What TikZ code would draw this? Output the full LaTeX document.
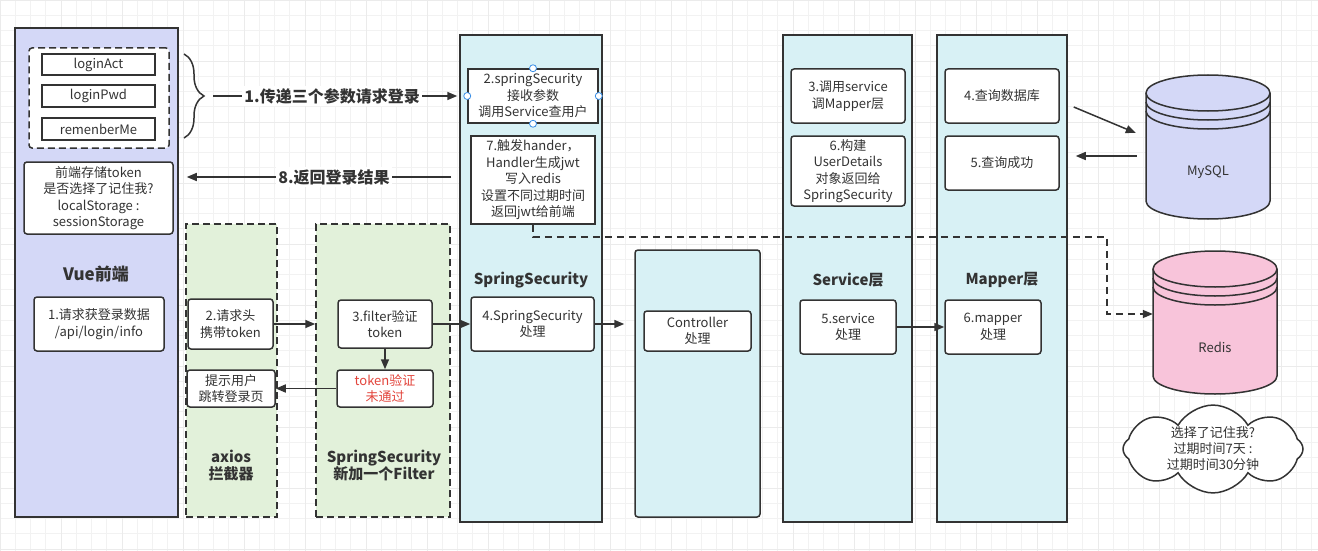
\documentclass[tikz,border=0pt]{standalone}
\usepackage{fontspec}
\setmainfont{Noto Sans CJK SC}
\usetikzlibrary{arrows.meta,shapes.symbols,decorations.pathreplacing,calc}
\definecolor{ink}{HTML}{333333}
\definecolor{vuefill}{HTML}{D4D8F7}
\definecolor{greenfill}{HTML}{E2F1DA}
\definecolor{cyanfill}{HTML}{D8F1F5}
\definecolor{pinkfill}{HTML}{F8C4DA}
\definecolor{redtxt}{HTML}{E3453C}
\definecolor{handlec}{HTML}{3A8EE6}
\begin{document}
\begin{tikzpicture}[x=1pt,y=-1pt,
 every node/.style={text=ink, font=\fontsize{13}{16.5}\selectfont, align=center, inner sep=0pt},
 box/.style={draw=ink, line width=1.5pt, fill=white, rounded corners=3pt},
 sbox/.style={draw=ink, line width=1.5pt, fill=white},
 col/.style={draw=ink, line width=1.5pt, fill=cyanfill},
 dcol/.style={draw=ink, line width=1.5pt, fill=greenfill, dash pattern=on 7pt off 4pt},
 ttl/.style={font=\bfseries\fontsize{15}{17}\selectfont},
 arr/.style={draw=ink, line width=1.5pt, -{Triangle[length=10pt,width=8pt]}},
 lbl/.style={font=\bfseries\fontsize{16}{19}\selectfont, fill=white, inner sep=2pt},
 dbline/.style={draw=ink, line width=1.5pt},
]
\useasboundingbox (0,0) rectangle (1318,551);
\fill[white] (0,0) rectangle (1318,551);
\draw[line width=0.8pt, color=black!5, step=15.25pt] (0,0) grid (1318,551);
\draw[line width=0.8pt, color=black!8, step=61pt] (0,0) grid (1318,551);

% Vue front end
\node[sbox, fill=vuefill, minimum width=163, minimum height=489] (vue) at (96.5,272.5) {};
\node[box, dash pattern=on 7pt off 4pt, minimum width=140, minimum height=100] (grp) at (99,98) {};
\node[sbox, minimum width=113, minimum height=21] (act) at (98.5,64.5) {loginAct};
\node[sbox, minimum width=113, minimum height=22] (pwd) at (98.5,96) {loginPwd};
\node[sbox, minimum width=113, minimum height=22] (rem) at (98.5,129) {remenberMe};
\node[box, minimum width=149, minimum height=72] (store) at (98.5,198) {前端存储token\\是否选择了记住我?\\localStorage :\\sessionStorage};
\node[font=\bfseries\fontsize{17}{20}\selectfont] (vuet) at (96,274) {Vue前端};
\node[box, minimum width=130, minimum height=54] (req) at (99,324) {1.请求获登录数据\\/api/login/info};

% axios
\node[dcol, minimum width=91, minimum height=293] (ax) at (231.5,370.5) {};
\node[box, minimum width=85, minimum height=50] (hdr) at (230.5,324) {2.请求头\\携带token};
\node[box, minimum width=88, minimum height=37] (tip) at (231,388.5) {提示用户\\跳转登录页};
\node[ttl] (axt) at (231,465) {axios\\拦截器};

% filter
\node[dcol, minimum width=134, minimum height=293] (ssf) at (383,370.5) {};
\node[box, minimum width=94, minimum height=48] (flt) at (385,324) {3.filter验证\\token};
\node[box, minimum width=96, minimum height=37, text=redtxt] (fail) at (385,388.5) {token验证\\未通过};
\node[ttl] (ssft) at (384,465) {SpringSecurity\\新加一个Filter};

% SpringSecurity column
\node[col, minimum width=142, minimum height=487] (ssc) at (531,278.5) {};
\node[sbox, minimum width=130, minimum height=54] (b2) at (533,96) {2.springSecurity\\接收参数\\调用Service查用户};
\node[sbox, minimum width=124, minimum height=88] (b7) at (533,180) {7.触发hander，\\Handler生成jwt\\写入redis\\设置不同过期时间\\返回jwt给前端};
\node[ttl] (sst) at (531,280) {SpringSecurity};
\node[box, minimum width=123, minimum height=54] (b4) at (532.5,324) {4.SpringSecurity\\处理};
\foreach \a in {north,south,east,west}
  \draw[handlec, fill=white, line width=0.8pt] (b2.\a) circle[radius=3.5pt];

% Controller column
\node[col, rounded corners=3pt, minimum width=125, minimum height=267] (ctc) at (697.5,383.5) {};
\node[box, minimum width=107, minimum height=40] (ctl) at (697.5,331) {Controller\\处理};

% Service column
\node[col, minimum width=129, minimum height=487] (svc) at (847.5,278.5) {};
\node[box, minimum width=114, minimum height=54] (s3) at (848,96) {3.调用service\\调Mapper层};
\node[box, minimum width=114, minimum height=70] (s6) at (848,171) {6.构建\\UserDetails\\对象返回给\\SpringSecurity};
\node[ttl] (svt) at (848,280) {Service层};
\node[box, minimum width=96, minimum height=54] (s5) at (848,327) {5.service\\处理};

% Mapper column
\node[col, minimum width=130, minimum height=487] (mp) at (1002,278.5) {};
\node[box, minimum width=114, minimum height=54] (m4) at (1002,96) {4.查询数据库};
\node[box, minimum width=114, minimum height=54] (m5) at (1002,163) {5.查询成功};
\node[ttl] (mpt) at (1002,280) {Mapper层};
\node[box, minimum width=96, minimum height=54] (m6) at (993,327) {6.mapper\\处理};

% MySQL
\filldraw[dbline, fill=vuefill] (1146,93) -- (1146,201) arc[start angle=180, end angle=360, x radius=62pt, y radius=18pt] -- (1270,93) arc[start angle=0, end angle=180, x radius=62pt, y radius=18pt] -- cycle;
\draw[dbline] (1146,93) arc[start angle=180, end angle=360, x radius=62pt, y radius=18pt];
\draw[dbline] (1146,102) arc[start angle=180, end angle=360, x radius=62pt, y radius=18pt];
\draw[dbline] (1146,111) arc[start angle=180, end angle=360, x radius=62pt, y radius=18pt];
\node[minimum width=124, minimum height=144] (mysql) at (1208,147) {};
\node (mysqlt) at (1208,172) {MySQL};

% Redis
\filldraw[dbline, fill=pinkfill] (1153,269) -- (1153,376) arc[start angle=180, end angle=360, x radius=62pt, y radius=18pt] -- (1277,269) arc[start angle=0, end angle=180, x radius=62pt, y radius=18pt] -- cycle;
\draw[dbline] (1153,269) arc[start angle=180, end angle=360, x radius=62pt, y radius=18pt];
\draw[dbline] (1153,278) arc[start angle=180, end angle=360, x radius=62pt, y radius=18pt];
\draw[dbline] (1153,287) arc[start angle=180, end angle=360, x radius=62pt, y radius=18pt];
\node[minimum width=124, minimum height=143] (redis) at (1215,322.5) {};
\node (redist) at (1215,347) {Redis};

% cloud
\node[cloud, draw=ink, line width=1.5pt, fill=white, cloud puffs=8, cloud puff arc=120, aspect=2.2, minimum width=180, minimum height=84, font=\fontsize{13}{16}\selectfont] (cl) at (1213,449) {选择了记住我?\\过期时间7天 :\\过期时间30分钟};

% brace and top arrows
\draw[draw=ink, line width=1.5pt, decorate, decoration={brace, amplitude=20pt}] (184,54) -- (184,138);
\coordinate (btip) at (205,96);
\draw[arr, shorten <=8pt, shorten >=2pt] (btip) -- (btip -| ssc.west) node[lbl, pos=0.5] {1.传递三个参数请求登录};
\coordinate (rstart) at (451,177);
\draw[arr, shorten >=8pt] (rstart) -- (rstart -| vue.east) node[lbl, pos=0.43] {8.返回登录结果};

% flow arrows
\draw[arr] (hdr.east) -- (hdr.east -| ssf.west);
\draw[arr] (flt.east) -- (b4.west);
\draw[arr] (flt.south) -- (fail.north);
\draw[arr] (fail.west) -- (tip.east);
\draw[arr, shorten >=10pt] (b4.east) -- (b4.east -| ctc.west);
\draw[arr] (s5.east) -- (m6.west);
\draw[arr] ([xshift=14pt,yshift=-11pt]m4.east) -- ([xshift=-10pt,yshift=14pt]mysql.west);
\draw[arr] ([xshift=-9pt,yshift=-9pt]mysql.west) -- ([xshift=16pt,yshift=7pt]m5.east);

% dashed connector to redis
\coordinate (rc) at (1107,237);
\draw[draw=ink, line width=1.5pt, dash pattern=on 7pt off 5pt, -{Triangle[length=10pt,width=8pt]}] (b7.south) |- (rc) |- ([yshift=8.5pt]redis.west);
\end{tikzpicture}
\end{document}
